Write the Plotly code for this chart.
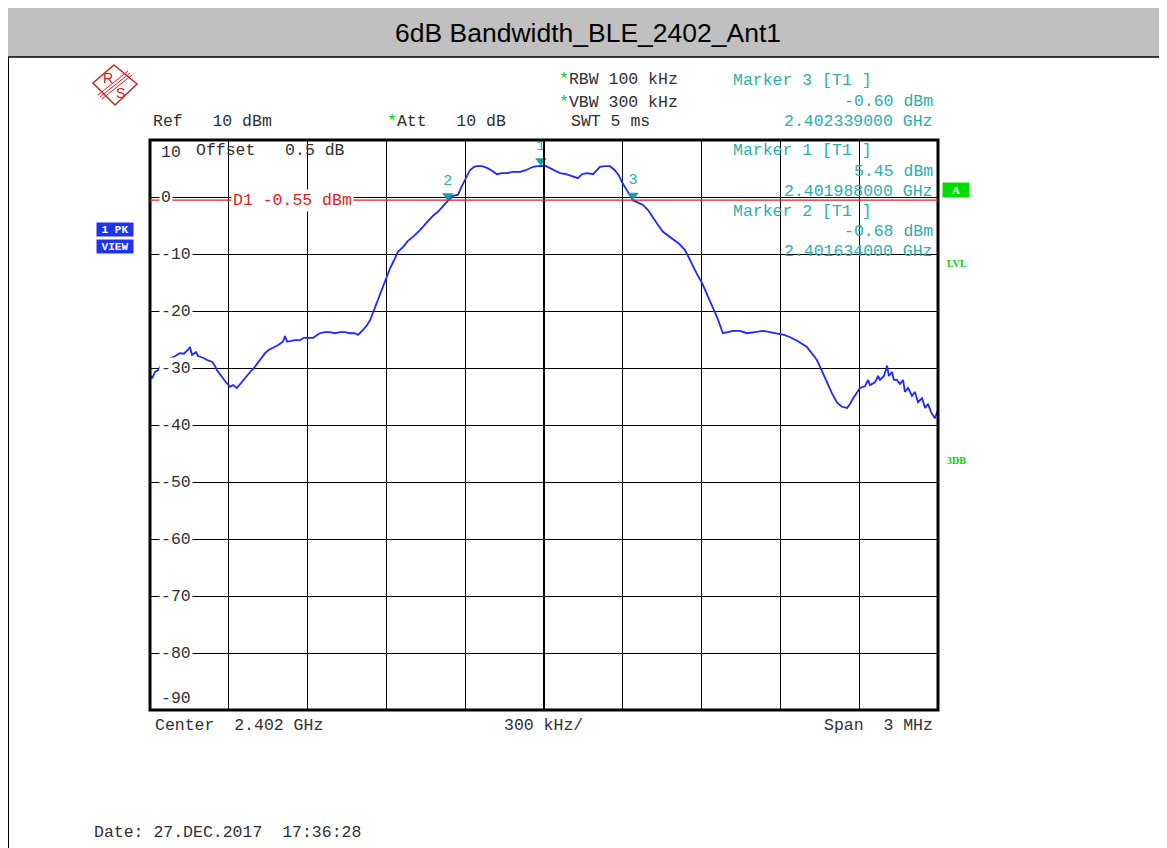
import plotly.graph_objects as go

# ---------------- data ----------------
freq_mhz = [
    2400.500, 2400.508, 2400.519, 2400.530, 2400.542, 2400.557, 2400.572, 2400.588, 2400.603, 2400.614,
    2400.629, 2400.645, 2400.652, 2400.660, 2400.675, 2400.683, 2400.702, 2400.717, 2400.736, 2400.747,
    2400.755, 2400.766, 2400.778, 2400.789, 2400.805, 2400.816, 2400.831, 2400.843, 2400.854, 2400.869,
    2400.881, 2400.896, 2400.911, 2400.923, 2400.938, 2400.953, 2400.968, 2400.987, 2401.006, 2401.014,
    2401.022, 2401.033, 2401.052, 2401.071, 2401.086, 2401.098, 2401.121, 2401.136, 2401.147, 2401.166,
    2401.185, 2401.204, 2401.223, 2401.242, 2401.261, 2401.280, 2401.292, 2401.311, 2401.326, 2401.338,
    2401.353, 2401.368, 2401.383, 2401.398, 2401.414, 2401.429, 2401.444, 2401.463, 2401.482, 2401.501,
    2401.528, 2401.555, 2401.577, 2401.596, 2401.619, 2401.634, 2401.654, 2401.673, 2401.684, 2401.699,
    2401.718, 2401.734, 2401.745, 2401.764, 2401.783, 2401.802, 2401.821, 2401.840, 2401.859, 2401.882,
    2401.909, 2401.931, 2401.958, 2401.977, 2401.988, 2402.008, 2402.023, 2402.042, 2402.061, 2402.084,
    2402.107, 2402.129, 2402.145, 2402.164, 2402.187, 2402.202, 2402.213, 2402.232, 2402.251, 2402.270,
    2402.286, 2402.297, 2402.308, 2402.320, 2402.339, 2402.354, 2402.377, 2402.396, 2402.415, 2402.434,
    2402.453, 2402.472, 2402.491, 2402.514, 2402.537, 2402.552, 2402.563, 2402.582, 2402.602, 2402.617,
    2402.632, 2402.647, 2402.659, 2402.670, 2402.681, 2402.700, 2402.719, 2402.746, 2402.773, 2402.803,
    2402.834, 2402.860, 2402.887, 2402.914, 2402.937, 2402.967, 2403.001, 2403.020, 2403.039, 2403.058,
    2403.077, 2403.096, 2403.116, 2403.134, 2403.154, 2403.165, 2403.177, 2403.192, 2403.203, 2403.222,
    2403.234, 2403.241, 2403.260, 2403.272, 2403.279, 2403.294, 2403.306, 2403.313, 2403.325, 2403.332,
    2403.344, 2403.355, 2403.367, 2403.374, 2403.386, 2403.401, 2403.412, 2403.424, 2403.439, 2403.451,
    2403.462, 2403.473, 2403.488, 2403.500,
]
level_dbm = [
    -31.2, -31.8, -30.7, -30.4, -29.5, -28.9, -28.4, -28.1, -27.7, -27.4,
    -27.5, -26.8, -26.3, -27.7, -27.2, -27.9, -28.2, -28.6, -28.9, -29.6,
    -30.4, -31.1, -31.8, -32.5, -33.3, -33.0, -33.5, -32.8, -32.1, -31.4,
    -30.7, -30.0, -29.1, -28.2, -27.4, -26.8, -26.5, -26.0, -25.4, -24.4,
    -25.4, -25.3, -25.1, -25.1, -24.7, -24.7, -24.7, -24.2, -23.9, -23.7,
    -23.7, -23.9, -23.7, -23.7, -23.9, -23.9, -24.2, -23.3, -22.5, -21.6,
    -19.8, -18.1, -16.3, -14.2, -12.5, -11.1, -9.6, -8.8, -7.7, -7.0,
    -5.8, -4.4, -3.3, -2.6, -1.4, -0.68, 0.2, 0.4, 1.6, 3.0,
    4.7, 5.3, 5.4, 5.4, 5.1, 4.6, 4.0, 4.2, 4.2, 4.4,
    4.4, 4.7, 5.3, 5.4, 5.45, 5.4, 5.1, 4.6, 4.2, 4.0,
    3.7, 3.3, 4.0, 4.2, 4.0, 4.7, 5.3, 5.4, 5.4, 4.7,
    3.7, 2.6, 1.8, 0.9, -0.6, -0.9, -1.4, -2.3, -3.7, -4.9,
    -6.1, -6.8, -7.5, -8.2, -9.3, -10.7, -11.9, -13.5, -15.1, -16.7,
    -18.1, -19.8, -21.1, -22.5, -23.9, -23.7, -23.5, -23.5, -23.9, -23.7,
    -23.5, -23.7, -24.0, -24.2, -24.6, -25.3, -26.3, -27.4, -28.6, -30.5,
    -32.6, -34.4, -36.1, -36.8, -37.0, -36.3, -35.3, -34.2, -33.5, -33.2,
    -32.1, -33.0, -32.5, -31.4, -32.1, -31.4, -29.6, -31.4, -30.7, -32.1,
    -32.1, -32.8, -32.1, -34.2, -33.5, -34.9, -34.2, -36.0, -35.3, -37.0,
    -36.3, -37.7, -38.8, -37.4,
]
marker_names = ["1", "2", "3"]
marker_freq_mhz = [2401.988, 2401.634, 2402.339]
marker_level_dbm = [5.45, -0.68, -0.60]
display_line_dbm = -0.55
y_tick_values = [10, 0, -10, -20, -30, -40, -50, -60, -70, -80, -90]
y_tick_labels = ["10", "0", "-10", "-20", "-30", "-40", "-50", "-60", "-70", "-80", "-90"]
x_start_mhz, x_stop_mhz, x_div_mhz = 2400.5, 2403.5, 0.3

title_text = "6dB Bandwidth_BLE_2402_Ant1"

# ---------------- layout helpers (reference pixel -> paper) ----------------
W, H = 1167, 848
PAGE = 8                      # default page margin of the html body
L, R, T, B = 150, 938, 140, 710


def px(x):
    return (x - L) / (R - L)


def py(y):
    return (B - y) / (B - T)


def nb(s):
    return s.replace(" ", "\u00a0")


MONO = "Liberation Mono"
FS = 16.5
TEAL = "#2AAFAF"
GREEN = "#00D000"
RED = "#E02020"
DARK = "#303030"

fig = go.Figure()

fig.add_trace(go.Scatter(
    x=freq_mhz, y=level_dbm, mode="lines",
    line=dict(color="#1E28FF", width=1.8), hoverinfo="skip", showlegend=False,
))

# marker triangles + numbers
fig.add_trace(go.Scatter(
    x=marker_freq_mhz, y=[v + 0.9 for v in marker_level_dbm],
    mode="markers+text", text=marker_names, textposition="top center",
    textfont=dict(family=MONO, size=15, color=TEAL),
    marker=dict(symbol="triangle-down", size=10, color="#17A0A0"),
    cliponaxis=False, showlegend=False, hoverinfo="skip",
))

shapes = []
ann = []

# header band
shapes.append(dict(type="rect", xref="paper", yref="paper", x0=px(7), x1=px(1160), y0=py(57), y1=py(-3),
                   fillcolor="#C0C0C0", line=dict(color="black", width=1.5), layer="below"))
shapes.append(dict(type="line", xref="paper", yref="paper", x0=px(8), x1=px(8), y0=py(57), y1=py(852),
                   line=dict(color="black", width=2)))
ann.append(dict(text=title_text, x=px(588), y=py(33), xref="paper", yref="paper", showarrow=False,
                xanchor="center", yanchor="middle", font=dict(family="Liberation Sans", size=26.5, color="black")))

# R&S logo
LOGO = "#D02020"
pts = [(114, 65), (137, 84), (115, 105), (93, 83)]
path = "M " + " L ".join(f"{px(a)},{py(b)}" for a, b in pts) + " Z"
shapes.append(dict(type="path", xref="paper", yref="paper", path=path, line=dict(color=LOGO, width=1.5)))
for d in (-2, 0, 2):
    shapes.append(dict(type="line", xref="paper", yref="paper",
                       x0=px(130 + d), y0=py(73 + d), x1=px(100 + d), y1=py(97 + d),
                       line=dict(color=LOGO, width=1)))
ann.append(dict(text="R", x=px(108), y=py(78), xref="paper", yref="paper", showarrow=False,
                xanchor="center", yanchor="middle", font=dict(family="Liberation Sans", size=14, color=LOGO)))
ann.append(dict(text="S", x=px(120), y=py(93), xref="paper", yref="paper", showarrow=False,
                xanchor="center", yanchor="middle", font=dict(family="Liberation Sans", size=14, color=LOGO)))

# plot frame and center line
shapes.append(dict(type="line", xref="paper", yref="paper", x0=0.5, x1=0.5, y0=0, y1=1,
                   line=dict(color="black", width=2)))
shapes.append(dict(type="rect", xref="paper", yref="paper", x0=0, x1=1, y0=0, y1=1,
                   line=dict(color="black", width=3)))

# display line D1
shapes.append(dict(type="line", xref="paper", yref="y", x0=0, x1=1, y0=display_line_dbm, y1=display_line_dbm,
                   line=dict(color=RED, width=1.2)))
ann.append(dict(text=nb(f"D1 {display_line_dbm:.2f} dBm"), x=px(231), y=display_line_dbm, xref="paper", yref="y",
                showarrow=False, xanchor="left", yanchor="middle", bgcolor="white",
                font=dict(family=MONO, size=FS, color=RED)))


def text(s, x, y, color=DARK, anchor="left", size=FS, **kw):
    ann.append(dict(text=nb(s), x=px(x), y=py(y), xref="paper", yref="paper", showarrow=False,
                    xanchor=anchor, yanchor="middle", font=dict(family=MONO, size=size, color=color), **kw))


star = f"<span style='color:{GREEN}'>*</span>"
text("Ref   10 dBm", 151, 122)
for s, x, y in (("Att   10 dB", 385, 122), ("RBW 100 kHz", 557, 80), ("VBW 300 kHz", 557, 102)):
    ann.append(dict(text=star + nb(s), x=px(x), y=py(y), xref="paper", yref="paper", showarrow=False,
                    xanchor="left", yanchor="middle", font=dict(family=MONO, size=FS, color=DARK)))
text("SWT 5 ms", 569, 122)
text("Offset   0.5 dB", 194, 151)

# marker readouts (marker order in ref: 3, 1, 2)
order = [2, 0, 1]
tops = [81, 151, 211]
for idx, ytop in zip(order, tops):
    text(f"Marker {marker_names[idx]} [T1 ]", 731, ytop, color=TEAL)
    text(f"{marker_level_dbm[idx]:.2f} dBm", 935, ytop + 20.5, color=TEAL, anchor="right")
    text(f"{marker_freq_mhz[idx] / 1000:.9f} GHz", 935, ytop + 40.5, color=TEAL, anchor="right")

# y tick labels (drawn inside the grid)
for v, lab in zip(y_tick_values, y_tick_labels):
    yshift = 0
    if v == y_tick_values[0]:
        yshift = -12
    elif v == y_tick_values[-1]:
        yshift = 12
    ann.append(dict(text=lab, x=px(159), y=v, xref="paper", yref="y", showarrow=False, xanchor="left",
                    yanchor="middle", yshift=yshift, bgcolor="white" if yshift == 0 else "rgba(0,0,0,0)",
                    borderpad=1, font=dict(family=MONO, size=FS, color=DARK)))

# bottom texts
text("Center  2.402 GHz", 153, 725)
text("300 kHz/", 502, 725)
text("Span  3 MHz", 935, 725, anchor="right")
text("Date: 27.DEC.2017  17:36:28", 92, 832)

# side boxes
for s, yc in (("1 PK", 229), ("VIEW", 246)):
    ann.append(dict(text=f"<b>{nb(s)}</b>", x=px(96), y=py(yc), xref="paper", yref="paper", showarrow=False,
                    xanchor="left", yanchor="middle", width=36, height=13, bgcolor="#1E32F0", borderpad=0,
                    font=dict(family=MONO, size=11, color="white")))
ann.append(dict(text="<b>A</b>", x=px(942), y=py(190), xref="paper", yref="paper", showarrow=False,
                xanchor="left", yanchor="middle", width=26, height=14, bgcolor="#00DD00", borderpad=0,
                font=dict(family="Liberation Serif", size=11, color="white")))
ann.append(dict(text="<b>LVL</b>", x=px(945), y=py(263), xref="paper", yref="paper", showarrow=False,
                xanchor="left", yanchor="middle", font=dict(family="Liberation Serif", size=10, color=GREEN)))
ann.append(dict(text="<b>3DB</b>", x=px(945), y=py(460), xref="paper", yref="paper", showarrow=False,
                xanchor="left", yanchor="middle", font=dict(family="Liberation Serif", size=10, color=GREEN)))

fig.update_layout(
    width=W - PAGE, height=H - PAGE,
    margin=dict(l=L - PAGE, r=W - R, t=T - PAGE, b=H - B, pad=0),
    paper_bgcolor="white", plot_bgcolor="white",
    showlegend=False,
    shapes=shapes, annotations=ann,
    xaxis=dict(range=[x_start_mhz, x_stop_mhz], tick0=x_start_mhz, dtick=x_div_mhz, showticklabels=False,
               showgrid=True, gridcolor="black", gridwidth=1, zeroline=False, showline=False, ticks="",
               fixedrange=True),
    yaxis=dict(range=[y_tick_values[-1], y_tick_values[0]], tick0=y_tick_values[-1], dtick=10,
               showticklabels=False, showgrid=True, gridcolor="black", gridwidth=1, zeroline=False,
               showline=False, ticks="", fixedrange=True),
)

fig.write_html("out.html")
